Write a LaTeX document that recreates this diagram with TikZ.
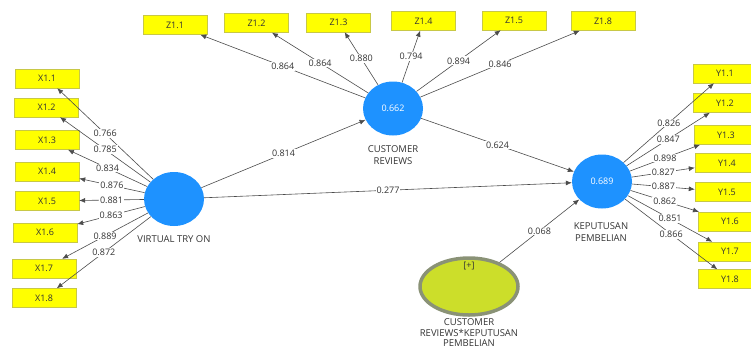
\documentclass[tikz,border=0pt]{standalone}
\usepackage{fontspec}
\setmainfont{Open Sans}
\usetikzlibrary{arrows.meta,shapes.geometric}
\definecolor{lvblue}{RGB}{30,146,255}
\definecolor{indyellow}{RGB}{255,255,0}
\definecolor{indedge}{RGB}{200,200,70}
\definecolor{modgreen}{RGB}{204,222,42}
\definecolor{modedge}{RGB}{138,146,118}
\definecolor{txtgray}{RGB}{51,51,51}

\begin{document}
\begin{tikzpicture}[
  x=1pt,y=-1pt,
  font=\fontsize{9}{12}\selectfont,
  >={Latex[length=6pt,width=5pt]},
  indic/.style={draw=indedge,fill=indyellow,minimum width=64pt,minimum height=19pt,inner sep=0pt,text=txtgray},
  latent/.style={ellipse,fill=lvblue,minimum width=60pt,minimum height=54pt,inner sep=0pt,text=white},
  caption/.style={align=center,text=txtgray,font=\fontsize{9.5}{12}\selectfont},
  link/.style={->,draw=black!70,line width=0.6pt},
  load/.style={fill=white,inner sep=1pt,text=txtgray}
]
\useasboundingbox (0,0) rectangle (751,349);
\clip (0,0) rectangle (751,349);

\node[latent] (vto) at (174,199) {};
\node[latent] (cr) at (393,108.5) {0.662};
\node[latent] (kp) at (602,181.5) {0.689};
\node[ellipse,draw=modedge,line width=3.5pt,fill=modgreen,minimum width=98pt,minimum height=57pt] (mod) at (469,286.5) {};
\node[text=txtgray] (modplus) at (469,266) {[+]};

\node[caption] (vtocap) at (174,239) {VIRTUAL TRY ON};
\node[caption] (crcap) at (393,155) {CUSTOMER\\REVIEWS};
\node[caption] (kpcap) at (601,232) {KEPUTUSAN\\PEMBELIAN};
\node[caption,font=\fontsize{9.5}{10.5}\selectfont] (modcap) at (469,333) {CUSTOMER\\REVIEWS*KEPUTUSAN\\PEMBELIAN};

\node[indic] (x11) at (47,78.5) {X1.1};
\node[indic] (x12) at (46.5,107.5) {X1.2};
\node[indic] (x13) at (47,140) {X1.3};
\node[indic] (x14) at (47,171.5) {X1.4};
\node[indic] (x15) at (47,201) {X1.5};
\node[indic] (x16) at (45,232.5) {X1.6};
\node[indic] (x17) at (44,268.5) {X1.7};
\node[indic] (x18) at (44,298) {X1.8};

\node[indic] (z11) at (175,25) {Z1.1};
\node[indic] (z12) at (256.5,23) {Z1.2};
\node[indic] (z13) at (338.5,22.5) {Z1.3};
\node[indic] (z14) at (423.5,21) {Z1.4};
\node[indic] (z15) at (514,20.5) {Z1.5};
\node[indic] (z18) at (603,21) {Z1.8};

\node[indic] (y11) at (725,73.5) {Y1.1};
\node[indic] (y12) at (725,103) {Y1.2};
\node[indic] (y13) at (726,135) {Y1.3};
\node[indic] (y14) at (727,163) {Y1.4};
\node[indic] (y15) at (727,192) {Y1.5};
\node[indic] (y16) at (730,221.5) {Y1.6};
\node[indic] (y17) at (730,251.5) {Y1.7};
\node[indic] (y18) at (730,279) {Y1.8};

\draw[link] (vto) -- node[load] {0.766} (x11);
\draw[link] (vto) -- node[load] {0.785} (x12);
\draw[link] (vto) -- node[load] {0.834} (x13);
\draw[link] (vto) -- node[load] {0.876} (x14);
\draw[link] (vto) -- node[load] {0.881} (x15);
\draw[link] (vto) -- node[load] {0.863} (x16);
\draw[link] (vto) -- node[load] {0.889} (x17);
\draw[link] (vto) -- node[load] {0.872} (x18);

\draw[link] (cr) -- node[load] {0.864} (z11);
\draw[link] (cr) -- node[load] {0.864} (z12);
\draw[link] (cr) -- node[load] {0.880} (z13);
\draw[link] (cr) -- node[load] {0.794} (z14);
\draw[link] (cr) -- node[load] {0.894} (z15);
\draw[link] (cr) -- node[load] {0.846} (z18);

\draw[link] (kp) -- node[load] {0.826} (y11);
\draw[link] (kp) -- node[load] {0.847} (y12);
\draw[link] (kp) -- node[load] {0.898} (y13);
\draw[link] (kp) -- node[load] {0.827} (y14);
\draw[link] (kp) -- node[load] {0.887} (y15);
\draw[link] (kp) -- node[load] {0.862} (y16);
\draw[link] (kp) -- node[load] {0.851} (y17);
\draw[link] (kp) -- node[load] {0.866} (y18);

\draw[link] (vto) -- node[load] {0.814} (cr);
\draw[link] (vto) -- node[load] {0.277} (kp);
\draw[link] (cr) -- node[load] {0.624} (kp);
\draw[link] (mod) -- node[load] {0.068} (kp);
\end{tikzpicture}
\end{document}
